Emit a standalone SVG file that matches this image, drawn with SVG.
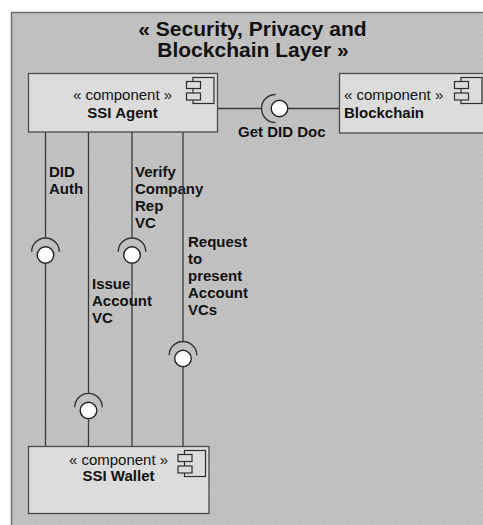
<svg xmlns="http://www.w3.org/2000/svg" width="483" height="525" viewBox="0 0 483 525">
<style>
.frame{fill:url(#dots);stroke:#6e6e6e;stroke-width:1.5}
.box{fill:#dcdcdc;stroke:#4a4a4a;stroke-width:1.3}
.icon{fill:#dcdcdc;stroke:#2e2e2e;stroke-width:1.2}
.ln{stroke:#3a3a3a;stroke-width:1.3;fill:none}
.arc{stroke:#333;stroke-width:1.4;fill:none}
.ball{fill:#fff;stroke:#222;stroke-width:1.4}
text{font-family:"Liberation Sans",Arial,sans-serif;fill:#111}
.title{font-size:21px;font-weight:bold;text-anchor:middle}
.st{font-size:15px}
.nm{font-size:15px;font-weight:bold}
.lbl{font-size:15px;font-weight:bold}
.mid{text-anchor:middle}
</style>
<defs>
<pattern id="dots" width="6" height="6" patternUnits="userSpaceOnUse">
<rect width="6" height="6" fill="#c0c0c0"/>
<rect x="2" y="2" width="1" height="1" fill="#c9c9c9"/>
</pattern>
<g id="cicon">
<rect class="icon" x="0" y="0" width="21" height="26"/>
<rect class="icon" x="-6.5" y="4" width="14" height="7"/>
<rect class="icon" x="-6.5" y="15.5" width="14" height="7"/>
</g>
</defs>
<rect width="483" height="525" fill="#fff"/>
<g id="layer">
<rect class="frame" x="11.5" y="12.5" width="490" height="530"/>
<text class="title" x="252.5" y="35.5">« Security, Privacy and</text>
<text class="title" x="253" y="57">Blockchain Layer »</text>
</g>
<g id="connectors">
<!-- Get DID Doc -->
<line class="ln" x1="217.5" y1="108.5" x2="261.5" y2="108.5"/>
<path class="arc" d="M275.5,94.5 A14,14 0 0 0 275.5,122.5"/>
<circle class="ball" cx="279.5" cy="108.5" r="8.3"/>
<line class="ln" x1="287.8" y1="108.5" x2="339.5" y2="108.5"/>
<text class="lbl" x="238" y="137">Get DID Doc</text>
<!-- DID Auth -->
<line class="ln" x1="45.5" y1="132" x2="45.5" y2="238"/>
<path class="arc" d="M31.7,251.8 A13.8,13.8 0 0 1 59.3,251.8"/>
<circle class="ball" cx="45.5" cy="255" r="8.3"/>
<line class="ln" x1="45.5" y1="263.3" x2="45.5" y2="446"/>
<text class="lbl" x="49" y="176.5">DID</text>
<text class="lbl" x="49" y="193.5">Auth</text>
<!-- Verify Company Rep VC -->
<line class="ln" x1="132" y1="132" x2="132" y2="238"/>
<path class="arc" d="M118.2,251.8 A13.8,13.8 0 0 1 145.8,251.8"/>
<circle class="ball" cx="132" cy="255" r="8.3"/>
<line class="ln" x1="132" y1="263.3" x2="132" y2="446"/>
<text class="lbl" x="135" y="177">Verify</text>
<text class="lbl" x="135" y="194">Company</text>
<text class="lbl" x="135" y="211">Rep</text>
<text class="lbl" x="135" y="228">VC</text>
<!-- Issue Account VC -->
<line class="ln" x1="88.5" y1="132" x2="88.5" y2="393.5"/>
<path class="arc" d="M74.7,407.2 A13.8,13.8 0 0 1 102.3,407.2"/>
<circle class="ball" cx="88.5" cy="410.5" r="8.3"/>
<line class="ln" x1="88.5" y1="418.8" x2="88.5" y2="446"/>
<text class="lbl" x="92" y="289">Issue</text>
<text class="lbl" x="92" y="306">Account</text>
<text class="lbl" x="92" y="323">VC</text>
<!-- Request to present Account VCs -->
<line class="ln" x1="183" y1="132" x2="183" y2="341.5"/>
<path class="arc" d="M169.2,355.3 A13.8,13.8 0 0 1 196.8,355.3"/>
<circle class="ball" cx="183" cy="358.5" r="8.3"/>
<line class="ln" x1="183" y1="366.8" x2="183" y2="446"/>
<text class="lbl" x="188" y="246.5">Request</text>
<text class="lbl" x="188" y="263.5">to</text>
<text class="lbl" x="188" y="280.5">present</text>
<text class="lbl" x="188" y="297.5">Account</text>
<text class="lbl" x="188" y="314.5">VCs</text>
</g>
<g id="ssi-agent">
<rect class="box" x="28.5" y="73.5" width="189" height="58.5"/>
<use href="#cicon" x="193" y="77.5"/>
<text class="st mid" x="122.5" y="100">« component »</text>
<text class="nm mid" x="122.5" y="118">SSI Agent</text>
</g>
<g id="blockchain">
<rect class="box" x="339.5" y="73.5" width="146" height="59.5"/>
<use href="#cicon" x="461" y="77.5"/>
<text class="st" x="344" y="100">« component »</text>
<text class="nm" x="344" y="118">Blockchain</text>
</g>
<g id="ssi-wallet">
<rect class="box" x="28.5" y="446.5" width="180.5" height="67"/>
<use href="#cicon" x="184.5" y="450.5"/>
<text class="st mid" x="118.5" y="465">« component »</text>
<text class="nm mid" x="118.5" y="481">SSI Wallet</text>
</g>
</svg>
